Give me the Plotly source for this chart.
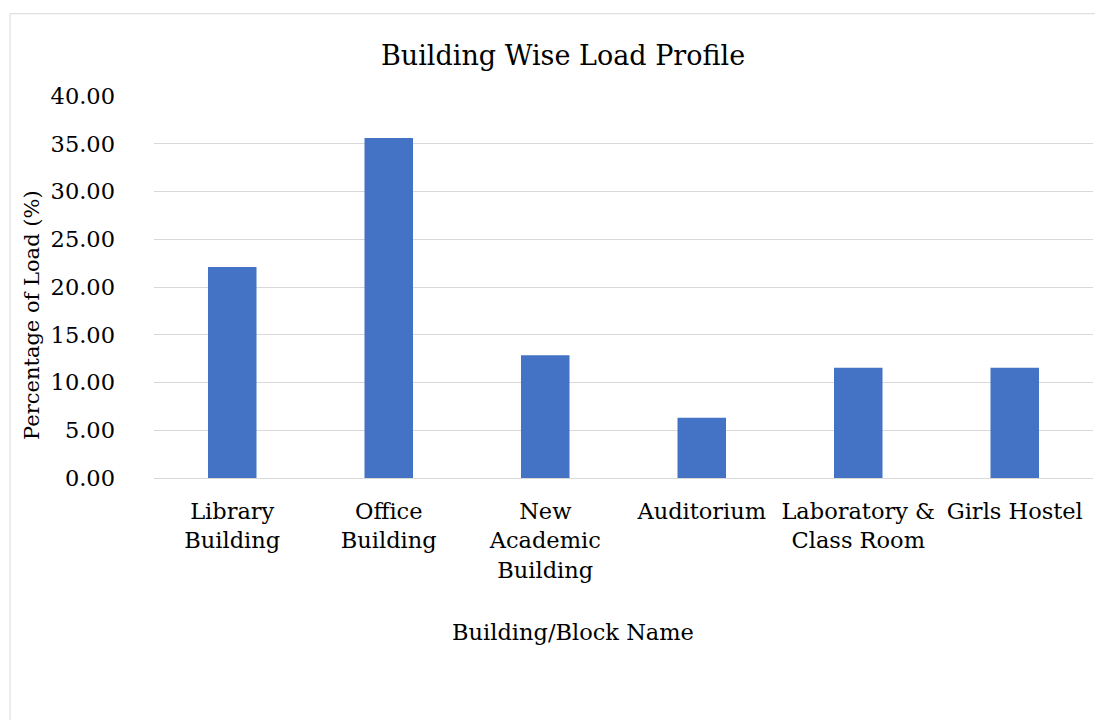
import plotly.graph_objects as go

categories = ["Library<br>Building", "Office<br>Building", "New<br>Academic<br>Building",
              "Auditorium", "Laboratory &<br>Class Room", "Girls Hostel"]
load_pct = [22.1, 35.6, 12.85, 6.3, 11.55, 11.55]
y_ticks = [0, 5, 10, 15, 20, 25, 30, 35, 40]
y_tick_labels = [f"{v:.2f}" for v in y_ticks]

FONT = "DejaVu Serif"

# page layout (browser body adds 8px offset)
OFF = 8
W, H = 1103 - OFF, 720 - OFF
PL, PR, PT, PB = 154, 1093, 95.5, 478.5  # plot area in page pixels


def px(xp):
    return (xp - PL) / (PR - PL)


def py(yp):
    return (PB - yp) / (PB - PT)


fig = go.Figure(go.Bar(x=categories, y=load_pct, marker=dict(color="#4472C4", line=dict(width=0)),
                       width=0.31))

fig.update_layout(
    width=W, height=H,
    margin=dict(l=PL - OFF, r=W - (PR - OFF), t=PT - OFF, b=H - (PB - OFF)),
    paper_bgcolor="white", plot_bgcolor="white",
    font=dict(family=FONT, color="#000000", size=22),
    showlegend=False,
    bargap=0.69,
)
fig.update_yaxes(range=[0, 40], tickvals=y_ticks, ticktext=y_tick_labels,
                 showgrid=True, gridcolor="#d9d9d9", gridwidth=1,
                 zeroline=False, showline=False, ticks="", ticklen=0,
                 ticklabelstandoff=38,
                 tickfont=dict(family=FONT, size=22.5))
fig.update_xaxes(showline=True, linecolor="#d9d9d9", linewidth=1, ticks="",
                 ticklabelstandoff=13,
                 tickfont=dict(family=FONT, size=22.5))

fig.add_annotation(text="Building Wise Load Profile", xref="paper", yref="paper",
                   x=px(563), y=py(55), xanchor="center", yanchor="middle", showarrow=False,
                   font=dict(family=FONT, size=27, color="#000000"))
fig.add_annotation(text="Percentage of Load (%)", xref="paper", yref="paper",
                   x=px(32), y=py(315), xanchor="center", yanchor="middle", showarrow=False,
                   textangle=-90, font=dict(family=FONT, size=21, color="#000000"))
fig.add_annotation(text="Building/Block Name", xref="paper", yref="paper",
                   x=px(573), y=py(633), xanchor="center", yanchor="middle", showarrow=False,
                   font=dict(family=FONT, size=22.5, color="#000000"))

fig.add_shape(type="rect", xref="paper", yref="paper",
              x0=px(10), x1=px(1130), y0=py(760), y1=py(13),
              line=dict(color="#d9d9d9", width=1), fillcolor="rgba(0,0,0,0)", layer="below")

fig.write_html("out.html")
